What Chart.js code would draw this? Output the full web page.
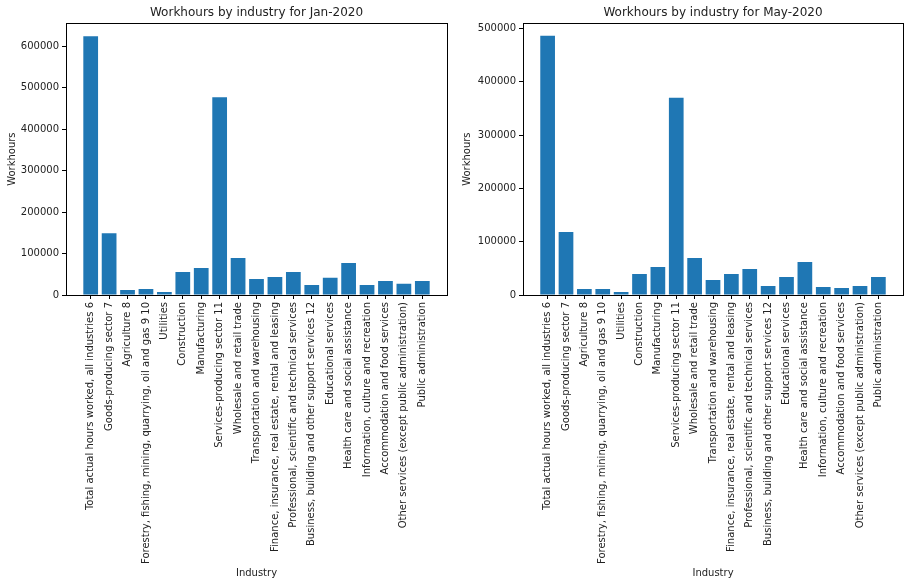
<!DOCTYPE html>
<html>
<head>
<meta charset="utf-8">
<script src="https://cdn.jsdelivr.net/npm/chart.js@4.4.0/dist/chart.umd.min.js"></script>
<style>
  body { margin: 0; background: #fff; }
  canvas { position: absolute; top: 0; }
  #janChart { left: 0; }
  #mayChart { left: 455px; }
</style>
</head>
<body>
<canvas id="janChart" width="455" height="585"></canvas>
<canvas id="mayChart" width="455" height="585"></canvas>
<script>
// industries, in plot order
const industries = [
  "Total actual hours worked, all industries 6",
  "Goods-producing sector 7",
  "Agriculture 8",
  "Forestry, fishing, mining, quarrying, oil and gas 9 10",
  "Utilities",
  "Construction",
  "Manufacturing",
  "Services-producing sector 11",
  "Wholesale and retail trade",
  "Transportation and warehousing",
  "Finance, insurance, real estate, rental and leasing",
  "Professional, scientific and technical services",
  "Business, building and other support services 12",
  "Educational services",
  "Health care and social assistance",
  "Information, culture and recreation",
  "Accommodation and food services",
  "Other services (except public administration)",
  "Public administration"
];
// workhours
const janHours = [624000, 148600, 12000, 14500, 7200, 55400, 65000, 477000, 89000, 38500,
  43400, 55400, 24000, 41800, 77000, 24000, 33700, 27300, 33700];
const mayHours = [486800, 118400, 11300, 11300, 5600, 39500, 52600, 370300, 69500, 28200,
  39500, 48900, 16900, 33800, 62000, 15000, 13200, 16900, 33800];
// y tick values
const janTicks = [0, 100000, 200000, 300000, 400000, 500000, 600000];
const mayTicks = [0, 100000, 200000, 300000, 400000, 500000];

const FONT = "'DejaVu Sans', sans-serif";
const TEXT = "#222";

// matplotlib style axes box
const framePlugin = {
  id: "frame",
  afterDatasetsDraw(chart) {
    const a = chart.chartArea;
    const ctx = chart.ctx;
    ctx.save();
    ctx.strokeStyle = "#000";
    ctx.lineWidth = 1;
    ctx.strokeRect(Math.round(a.left) + 0.5, Math.round(a.top) + 0.5,
      Math.round(a.right - a.left), Math.round(a.bottom - a.top));
    ctx.restore();
  }
};

function makeChart(id, month, values, yTicks, yMax, yWidth, padRight) {
  const ctx = document.getElementById(id).getContext("2d");
  const n = industries.length;
  return new Chart(ctx, {
    type: "bar",
    data: {
      labels: industries.map((_, i) => i),
      datasets: [{
        data: values,
        backgroundColor: "#1f77b4",
        barPercentage: 0.8,
        categoryPercentage: 1
      }]
    },
    plugins: [framePlugin],
    options: {
      responsive: false,
      animation: false,
      devicePixelRatio: 1,
      layout: { padding: { left: 0, right: padRight, top: 0, bottom: 0 } },
      plugins: {
        legend: { display: false },
        tooltip: { enabled: false },
        title: {
          display: true,
          fullSize: false, // center over the plot area, like matplotlib
          text: "Workhours by industry for " + month,
          color: TEXT,
          font: { family: FONT, size: 12, weight: "normal" },
          padding: { top: 5.5, bottom: 3.4 }
        }
      },
      scales: {
        x: {
          type: "linear",
          offset: false,
          min: -1.34,
          max: n - 1 + 1.34,
          grid: { offset: false, display: true, drawOnChartArea: false, drawTicks: true, tickLength: 4, color: "#000" },
          border: { display: false },
          afterBuildTicks: scale => {
            scale.ticks = industries.map((_, i) => ({ value: i }));
          },
          afterFit: scale => { scale.height = 290; },
          ticks: {
            autoSkip: false,
            minRotation: 90,
            maxRotation: 90,
            padding: 3,
            color: TEXT,
            font: { family: FONT, size: 10 },
            callback: v => industries[v] || ""
          },
          title: {
            display: true,
            text: "Industry",
            color: TEXT,
            font: { family: FONT, size: 10 },
            padding: { top: 4, bottom: 6 }
          }
        },
        y: {
          min: 0,
          max: yMax,
          grid: { display: true, drawOnChartArea: false, drawTicks: true, tickLength: 4, color: "#000" },
          border: { display: false },
          afterBuildTicks: scale => {
            scale.ticks = yTicks.map(v => ({ value: v }));
          },
          afterFit: scale => { scale.width = yWidth; },
          ticks: {
            padding: 3,
            color: TEXT,
            font: { family: FONT, size: 10 },
            callback: v => String(v)
          },
          title: {
            display: true,
            text: "Workhours",
            color: TEXT,
            font: { family: FONT, size: 10 },
            padding: { top: 6, bottom: 4 }
          }
        }
      }
    }
  });
}

makeChart("janChart", "Jan-2020", janHours, janTicks, 655000, 66, 8);
makeChart("mayChart", "May-2020", mayHours, mayTicks, 510000, 68, 7);
</script>
</body>
</html>
